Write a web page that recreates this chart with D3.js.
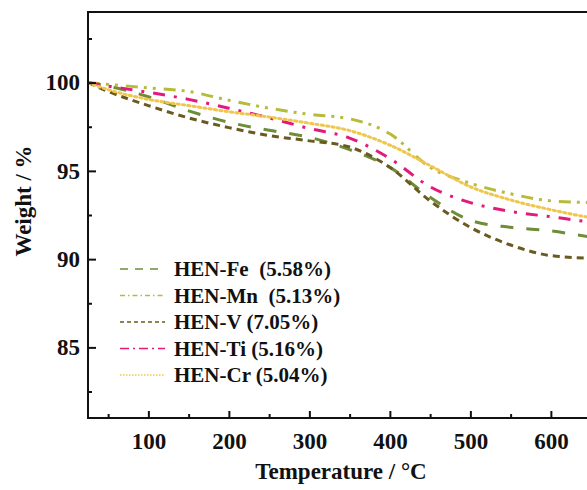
<!DOCTYPE html>
<html>
<head>
<meta charset="utf-8">
<script src="https://cdn.jsdelivr.net/npm/d3@7"></script>
<style>
  html, body { margin: 0; padding: 0; background: #fff; }
  svg { display: block; overflow: hidden; }
  text { font-family: "Liberation Serif", "Times New Roman", serif; font-weight: bold; fill: #111; }
</style>
</head>
<body>
<svg id="chart" width="587" height="490"></svg>
<script>
// TGA curves of the HEN samples: weight (%) against temperature (°C)
const temperature = [25, 50, 100, 150, 200, 250, 300, 350, 400, 450, 500, 550, 600, 650, 700];
const weightFe = [100, 99.8, 99.2, 98.4, 97.75, 97.3, 96.9, 96.2, 95.2, 93.5, 92.2, 91.8, 91.6, 91.25, 91.0];
const weightMn = [100, 99.9, 99.7, 99.5, 99.0, 98.55, 98.2, 97.95, 97.1, 95.2, 94.3, 93.7, 93.3, 93.2, 93.1];
const weightV  = [100, 99.5, 98.7, 98.0, 97.45, 97.0, 96.7, 96.35, 95.2, 93.3, 91.8, 90.8, 90.2, 90.05, 90.0];
const weightTi = [100, 99.8, 99.45, 99.05, 98.55, 98.0, 97.4, 96.86, 95.7, 94.1, 93.2, 92.7, 92.4, 92.1, 91.9];
const weightCr = [100, 99.6, 99.05, 98.7, 98.35, 98.05, 97.7, 97.28, 96.46, 95.3, 94.1, 93.35, 92.8, 92.35, 92.1];

const seriesNames = ["HEN-Fe  (5.58%)", "HEN-Mn  (5.13%)", "HEN-V (7.05%)", "HEN-Ti (5.16%)", "HEN-Cr (5.04%)"];
const seriesValues = [weightFe, weightMn, weightV, weightTi, weightCr];
const seriesColors = ["#6f8c38", "#b7bb3a", "#6b5a20", "#e4197c", "#efc64e"];
const seriesDashes = ["13,13", "12,6,3,6,3,8", "7,5", "12,9,3,9", "2.2,3.2"];
const seriesCaps = ["butt", "butt", "butt", "butt", "round"];
const legendDashes = ["8,7", "5,3,1.5,3", "4,3", "9,4,2,4", "1.5,1.5"];

const xMajor = [100, 200, 300, 400, 500, 600];
const xMinor = [50, 150, 250, 350, 450, 550];
const yMajor = [85, 90, 95, 100];
const yMinor = [82.5, 87.5, 92.5, 97.5, 102.5];

const svg = d3.select("#chart");
const plotLeft = 88, plotTop = 12, plotBottom = 418;

const x = d3.scaleLinear().domain([25, 700]).range([plotLeft, plotLeft + 675 * 0.805]);
const y = d3.scaleLinear().domain([81, 104]).range([plotBottom, plotTop]);
const plotRight = x(700);

svg.append("rect").attr("width", 587).attr("height", 490).attr("fill", "#fff");

svg.append("defs").append("clipPath").attr("id", "plot")
  .append("rect").attr("x", plotLeft).attr("y", plotTop)
  .attr("width", plotRight - plotLeft).attr("height", plotBottom - plotTop);

// curves
const line = d3.line()
  .x((d, i) => x(temperature[i]))
  .y(d => y(d))
  .curve(d3.curveMonotoneX);

const curves = svg.append("g").attr("clip-path", "url(#plot)");
seriesValues.forEach((vals, k) => {
  curves.append("path")
    .attr("d", line(vals))
    .attr("fill", "none")
    .attr("stroke", seriesColors[k])
    .attr("stroke-width", 3)
    .attr("stroke-dasharray", seriesDashes[k])
    .attr("stroke-linecap", seriesCaps[k]);
});

// axes
const xAxis = d3.axisBottom(x).tickValues(xMajor).tickSize(-7).tickPadding(15).tickFormat(d3.format("d"));
const xAxisMinor = d3.axisBottom(x).tickValues(xMinor).tickSize(-4).tickFormat("");
const yAxis = d3.axisLeft(y).tickValues(yMajor).tickSize(-8).tickPadding(8).tickFormat(d3.format("d"));
const yAxisMinor = d3.axisLeft(y).tickValues(yMinor).tickSize(-4).tickFormat("");

function styleAxis(g) {
  g.select(".domain").remove();
  g.selectAll(".tick line").attr("stroke", "#111").attr("stroke-width", 2);
  g.selectAll(".tick text").attr("font-size", 23).attr("font-family", null).attr("fill", "#111");
}

svg.append("g").attr("transform", `translate(0,${plotBottom})`).call(xAxis).call(styleAxis);
svg.append("g").attr("transform", `translate(0,${plotBottom})`).call(xAxisMinor).call(styleAxis);
svg.append("g").attr("transform", `translate(${plotLeft},0)`).call(yAxis).call(styleAxis);
svg.append("g").attr("transform", `translate(${plotLeft},0)`).call(yAxisMinor).call(styleAxis);

// frame
svg.append("rect")
  .attr("x", plotLeft).attr("y", plotTop)
  .attr("width", plotRight - plotLeft).attr("height", plotBottom - plotTop)
  .attr("fill", "none").attr("stroke", "#111").attr("stroke-width", 2);

// axis titles
svg.append("text")
  .attr("x", 341).attr("y", 479)
  .attr("text-anchor", "middle").attr("font-size", 23)
  .text("Temperature / °C");

svg.append("text")
  .attr("transform", "translate(31,201) rotate(-90)")
  .attr("text-anchor", "middle").attr("font-size", 23)
  .text("Weight / %");

// legend
const legend = svg.append("g");
seriesNames.forEach((name, k) => {
  const ly = 269 + k * 26.5;
  legend.append("line")
    .attr("x1", 120).attr("x2", 165).attr("y1", ly).attr("y2", ly)
    .attr("stroke", seriesColors[k]).attr("stroke-width", 1.6)
    .attr("stroke-dasharray", legendDashes[k]);
  legend.append("text")
    .attr("x", 174).attr("y", ly + 7)
    .attr("font-size", 21)
    .attr("xml:space", "preserve")
    .style("white-space", "pre")
    .text(name);
});
</script>
</body>
</html>
